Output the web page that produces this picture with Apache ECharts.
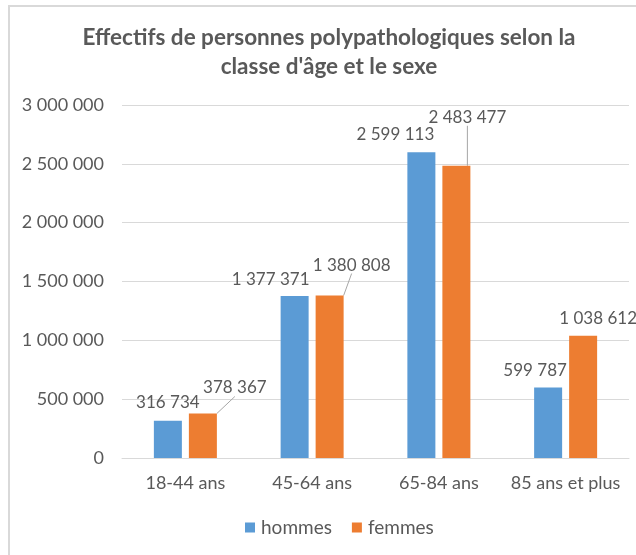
<!DOCTYPE html>
<html>
<head>
<meta charset="utf-8">
<script src="https://cdn.jsdelivr.net/npm/echarts@6/dist/echarts.min.js"></script>
<style>
  html, body { margin: 0; padding: 0; background: #fff; }
  #chartBox { width: 636px; height: 555px; }
</style>
</head>
<body>
<div id="chartBox"></div>
<script>
const categories = ['18-44 ans', '45-64 ans', '65-84 ans', '85 ans et plus'];
const hommes = [316734, 1377371, 2599113, 599787];
const femmes = [378367, 1380808, 2483477, 1038612];
const yTicks = [0, 500000, 1000000, 1500000, 2000000, 2500000, 3000000];

// label shifts as in the original (excel moved some labels by hand)
const hommesShift = [[0, -5], [-24, -3], [-26, -4], [-13, -3]];
const femmesShift = [[32, -12], [22, -17], [11, -35], [15, -4]];
const femmesLeader = [true, true, true, false];

const FONT = 'Lato, "Open Sans", sans-serif';
const TXT = '#595959';

function fmt(v) {
  return String(v).replace(/\B(?=(\d{3})+(?!\d))/g, ' ');
}

const chart = echarts.init(document.getElementById('chartBox'));
chart.setOption({
  animation: false,
  textStyle: { fontFamily: FONT },
  graphic: [{
    type: 'rect',
    shape: { x: 9, y: 6, width: 800, height: 800 },
    style: { fill: 'none', stroke: '#d9d9d9', lineWidth: 2 },
    silent: true
  }],
  title: {
    text: 'Effectifs de personnes polypathologiques selon la\nclasse d\'âge et le sexe',
    left: 324,
    top: 18,
    textAlign: 'center',
    textStyle: {
      fontFamily: FONT,
      fontSize: 22.5,
      fontWeight: 'bold',
      color: TXT,
      lineHeight: 29
    }
  },
  legend: {
    bottom: 13,
    left: 240,
    itemWidth: 10,
    itemHeight: 10,
    itemGap: 20,
    icon: 'rect',
    textStyle: { fontFamily: FONT, fontSize: 19, color: TXT, padding: [0, 0, 0, 1] },
    data: ['hommes', 'femmes']
  },
  grid: { left: 122, right: 7, top: 105, bottom: 97 },
  xAxis: {
    type: 'category',
    data: categories,
    axisLine: { lineStyle: { color: '#d9d9d9', width: 1 } },
    axisTick: { show: false },
    axisLabel: { fontFamily: FONT, fontSize: 18, color: TXT, margin: 16, interval: 0, hideOverlap: false }
  },
  yAxis: {
    type: 'value',
    min: yTicks[0],
    max: yTicks[yTicks.length - 1],
    interval: yTicks[1] - yTicks[0],
    axisLine: { show: false },
    axisTick: { show: false },
    splitLine: { lineStyle: { color: '#d9d9d9', width: 1 } },
    axisLabel: { fontFamily: FONT, fontSize: 18, color: TXT, margin: 18, formatter: fmt }
  },
  series: [
    {
      name: 'hommes',
      type: 'bar',
      barWidth: 28,
      barGap: '25%',
      itemStyle: { color: '#5b9bd5' },
      label: {
        show: true, position: 'top', distance: 5,
        fontFamily: FONT, fontSize: 17, color: TXT,
        formatter: p => fmt(p.value)
      },
      labelLayout: p => ({ dx: hommesShift[p.dataIndex][0], dy: hommesShift[p.dataIndex][1] }),
      data: hommes
    },
    {
      name: 'femmes',
      type: 'bar',
      barWidth: 28,
      barGap: '25%',
      itemStyle: { color: '#ed7d31' },
      label: {
        show: true, position: 'top', distance: 5,
        fontFamily: FONT, fontSize: 17, color: TXT,
        formatter: p => fmt(p.value)
      },
      labelLine: { show: true, lineStyle: { color: '#a6a6a6', width: 1 } },
      labelLayout: p => ({ dx: femmesShift[p.dataIndex][0], dy: femmesShift[p.dataIndex][1] }),
      data: femmes.map((v, i) => ({ value: v, labelLine: { show: femmesLeader[i] } }))
    }
  ]
});
</script>
</body>
</html>
